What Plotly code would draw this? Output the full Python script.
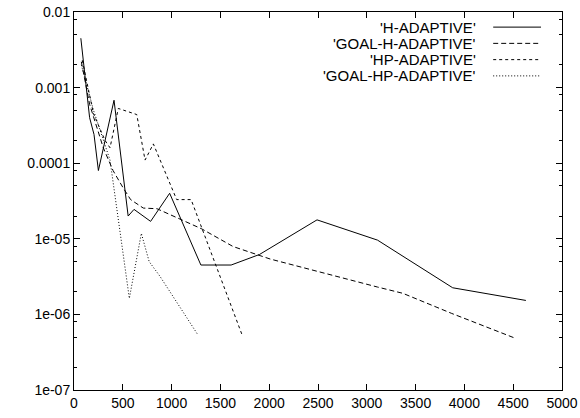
import plotly.graph_objects as go

# ---------------- data ----------------
h_x = [70, 160, 205, 250, 410, 555, 615, 785, 980, 1300, 1610, 1900, 2490, 3110, 3880, 4630]
h_y = [4.5e-3, 4.0e-4, 2.4e-4, 8.0e-5, 6.8e-4, 2.0e-5, 2.45e-5, 1.7e-5, 4.0e-5, 4.5e-6, 4.5e-6,
       6.2e-6, 1.78e-5, 9.6e-6, 2.25e-6, 1.53e-6]

gh_x = [75, 160, 300, 400, 500, 580, 710, 850, 1310, 1630, 2010, 2490, 3110, 3370, 3870, 4510]
gh_y = [2.2e-3, 6.0e-4, 1.6e-4, 8.0e-5, 4.8e-5, 3.3e-5, 2.55e-5, 2.5e-5, 1.35e-5, 7.9e-6, 5.4e-6,
        3.7e-6, 2.3e-6, 1.9e-6, 1.03e-6, 4.9e-7]

hp_x = [85, 200, 318, 369, 454, 643, 728, 813, 1052, 1200, 1719]
hp_y = [2.3e-3, 4.5e-4, 2.0e-4, 1.6e-4, 5.3e-4, 4.4e-4, 1.1e-4, 1.8e-4, 3.3e-5, 3.3e-5, 5.5e-7]

ghp_x = [75, 200, 369, 567, 690, 770, 880, 1100, 1264]
ghp_y = [2.0e-3, 5.0e-4, 1.1e-4, 1.63e-6, 1.18e-5, 5.0e-6, 3.2e-6, 1.15e-6, 5.5e-7]

names = ["'H-ADAPTIVE'", "'GOAL-H-ADAPTIVE'", "'HP-ADAPTIVE'", "'GOAL-HP-ADAPTIVE'"]
dashes = ["solid", "5px,3px", "3px,3px", "1px,2px"]

y_tickvals = [1e-7, 1e-6, 1e-5, 1e-4, 1e-3, 1e-2]
y_ticktext = ["1e-07", "1e-06", "1e-05", "0.0001", "0.001", "0.01"]
x_tickvals = [0, 500, 1000, 1500, 2000, 2500, 3000, 3500, 4000, 4500, 5000]

series = [(h_x, h_y), (gh_x, gh_y), (hp_x, hp_y), (ghp_x, ghp_y)]

FONT = "Liberation Sans, Arial, Helvetica, sans-serif"
TICK_SIZE = 14
KEY_SIZE = 15

fig = go.Figure()
for (xs, ys), name, dash in zip(series, names, dashes):
    fig.add_trace(go.Scatter(x=xs, y=ys, mode="lines", name=name,
                             line=dict(color="black", width=1, dash=dash),
                             showlegend=False))

# minor tick positions (2, 5, 8 per decade, like the reference)
minor_vals = []
for e in range(-7, -2):
    for m in (2, 5, 8):
        minor_vals.append(m * 10 ** e)

fig.update_layout(
    width=580, height=418,
    margin=dict(l=74, r=18, t=12, b=28),
    paper_bgcolor="white", plot_bgcolor="white",
    font=dict(family=FONT, size=TICK_SIZE, color="black"),
    xaxis=dict(range=[0, 5000], tickvals=x_tickvals, ticks="inside", ticklen=6,
               tickcolor="black", showline=True, linecolor="black", linewidth=1,
               mirror="allticks", showgrid=False, zeroline=False, automargin=False,
               tickfont=dict(size=TICK_SIZE)),
    yaxis=dict(type="log", range=[-7, -2], tickvals=y_tickvals, ticktext=y_ticktext,
               ticks="inside", ticklen=6, tickcolor="black", showline=True,
               linecolor="black", linewidth=1, mirror="allticks", showgrid=False,
               zeroline=False, automargin=False, tickfont=dict(size=TICK_SIZE),
               minor=dict(tickmode="array", tickvals=minor_vals, ticks="inside",
                          ticklen=3, tickcolor="black", showgrid=False)),
)

# gnuplot-style key: right-aligned text followed by a line sample
rows_y = [0.960, 0.917, 0.874, 0.831]
for name, dash, yy in zip(names, dashes, rows_y):
    fig.add_annotation(x=0.828, y=yy, xref="paper", yref="paper", text=name,
                       showarrow=False, xanchor="right", yanchor="middle",
                       font=dict(family=FONT, size=KEY_SIZE, color="black"))
    fig.add_shape(type="line", xref="paper", yref="paper", x0=0.859, x1=0.957,
                  y0=yy, y1=yy, line=dict(color="black", width=1, dash=dash))

fig.write_html("out.html")
